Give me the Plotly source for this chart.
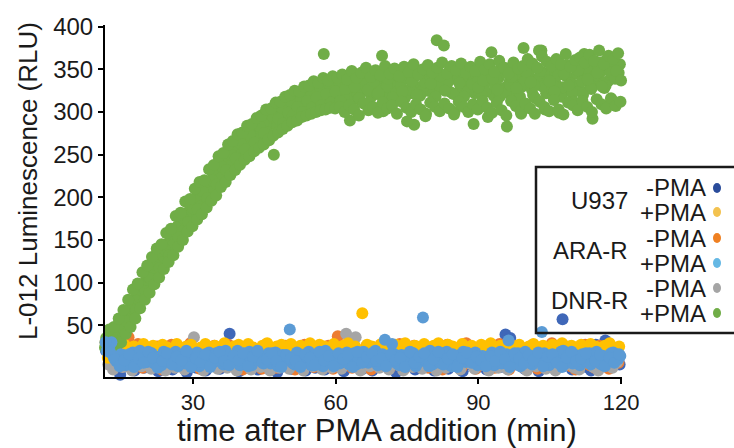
import numpy as np
import plotly.graph_objects as go

# Plate-reader schedule: one read per minute after PMA addition; wells are read
# a fraction of a minute apart within each cycle.
read_minutes = np.arange(12, 121)

# DNR-R +PMA, six wells (RLU)
dnr_pma_w1 = [28, 33, 36, 41, 52, 60, 75, 86, 92, 108,
              112, 126, 128, 143, 147, 163, 166, 181, 183, 196,
              195, 210, 211, 226, 228, 241, 243, 255, 254, 266,
              262, 275, 272, 284, 281, 292, 289, 301, 298, 309,
              303, 316, 309, 321, 313, 326, 317, 330, 318, 333,
              321, 336, 320, 338, 322, 340, 324, 331, 339, 319,
              342, 326, 334, 345, 321, 337, 329, 348, 325, 336,
              384, 328, 341, 323, 344, 330, 327, 349, 322, 338,
              333, 346, 319, 340, 328, 351, 324, 337, 330, 345,
              326, 339, 372, 322, 341, 333, 352, 327, 340, 331,
              346, 368, 355, 333, 341, 349, 336, 352, 344]
dnr_pma_w2 = [24, 30, 38, 36, 46, 66, 70, 80, 99, 100,
              118, 120, 136, 135, 154, 157, 172, 175, 188, 190,
              204, 203, 218, 219, 233, 236, 248, 249, 262, 259,
              270, 268, 280, 278, 290, 286, 297, 295, 305, 302,
              312, 306, 318, 312, 322, 314, 368, 316, 328, 320,
              331, 317, 335, 322, 329, 343, 318, 334, 326, 347,
              320, 333, 340, 316, 338, 285, 344, 327, 339, 322,
              345, 331, 326, 350, 320, 336, 343, 325, 347, 333,
              324, 341, 330, 318, 346, 335, 321, 343, 375, 351,
              320, 337, 330, 344, 325, 350, 318, 342, 334, 357,
              325, 344, 331, 350, 338, 328, 353, 340, 346]
dnr_pma_w3 = [35, 27, 31, 44, 57, 58, 80, 83, 97, 112,
              109, 130, 124, 146, 144, 166, 160, 178, 180, 200,
              190, 214, 206, 229, 222, 244, 237, 258, 249, 268,
              259, 278, 268, 287, 276, 295, 284, 304, 294, 311,
              300, 315, 305, 324, 310, 328, 314, 332, 315, 336,
              318, 329, 341, 315, 333, 326, 345, 321, 366, 330,
              348, 323, 331, 340, 326, 350, 319, 335, 343, 327,
              331, 378, 336, 321, 340, 347, 324, 333, 341, 319,
              345, 370, 338, 352, 323, 331, 344, 318, 336, 349,
              331, 372, 346, 337, 319, 343, 329, 355, 322, 345,
              336, 352, 327, 343, 358, 331, 347, 339, 356]
dnr_pma_w4 = [31, 36, 29, 48, 55, 70, 68, 92, 90, 105,
              121, 117, 139, 132, 157, 153, 175, 171, 187, 186,
              207, 199, 220, 215, 236, 232, 250, 246, 263, 256,
              273, 264, 283, 275, 267, 250, 292, 287, 299, 296,
              306, 300, 313, 305, 317, 308, 321, 311, 324, 313,
              327, 290, 330, 316, 348, 311, 336, 322, 301, 339,
              317, 343, 324, 289, 336, 320, 346, 298, 333, 318,
              342, 325, 349, 300, 334, 318, 345, 286, 329, 337,
              294, 339, 326, 353, 283, 341, 328, 298, 347, 335,
              316, 348, 303, 336, 324, 299, 345, 331, 312, 349,
              320, 338, 292, 346, 330, 362, 315, 348, 337]
dnr_pma_w5 = [40, 45, 48, 58, 68, 80, 92, 99, 112, 120,
              130, 140, 145, 158, 163, 178, 182, 195, 198, 210,
              218, 220, 233, 238, 248, 252, 262, 266, 274, 276,
              284, 286, 293, 296, 303, 304, 311, 312, 318, 320,
              325, 324, 330, 331, 336, 334, 340, 337, 342, 340,
              344, 338, 348, 340, 346, 352, 341, 349, 343, 354,
              345, 351, 342, 353, 347, 356, 344, 350, 355, 346,
              352, 358, 345, 354, 349, 357, 346, 353, 348, 359,
              350, 356, 347, 360, 352, 345, 358, 351, 354, 362,
              357, 352, 365, 359, 354, 362, 356, 368, 353, 361,
              364, 358, 367, 360, 372, 356, 366, 362, 369]
dnr_pma_w6 = [22, 26, 24, 30, 40, 48, 58, 70, 80, 88,
              98, 106, 116, 124, 132, 142, 150, 160, 166, 174,
              180, 188, 196, 202, 212, 218, 226, 232, 238, 244,
              248, 254, 258, 262, 268, 272, 276, 280, 284, 288,
              290, 294, 296, 298, 300, 302, 303, 305, 304, 306,
              300, 308, 303, 296, 310, 302, 306, 299, 311, 304,
              308, 298, 312, 305, 300, 309, 303, 295, 311, 306,
              301, 310, 304, 297, 312, 306, 300, 309, 303, 313,
              305, 299, 311, 302, 296, 313, 307, 301, 310, 304,
              298, 312, 306, 301, 314, 303, 297, 311, 308, 302,
              313, 306, 300, 315, 309, 304, 316, 307, 312]

# ARA-R +PMA, three wells
ara_pma_w1 = [42, 24, 12, 6, 15, 9, 18, 4, 13, 7,
              17, 10, 3, 14, 8, 19, 11, 5, 16, 9,
              2, 13, 18, 7, 12, 4, 15, 10, 20, 6,
              11, 3, 16, 9, 14, 5, 18, 8, 12, 45,
              4, 15, 10, 19, 6, 13, 2, 17, 9, 14,
              7, 18, 11, 4, 15, 8, 12, 20, 5, 33,
              10, 16, 3, 13, 9, 17, 6, 59, 11, 4,
              14, 8, 19, 2, 12, 16, 7, 10, 18, 5,
              13, 9, 3, 15, 11, 32, 6, 17, 8, 12,
              4, 16, 42, 10, 7, 14, 19, 5, 11, 15,
              3, 9, 17, 12, 6, 14, 8, 18, 10]
ara_pma_w2 = [20, 30, 8, 16, 3, 12, 7, 20, 10, 15,
              5, 13, 19, 7, 11, 2, 16, 12, 6, 18,
              10, 14, 4, 17, 9, 20, 6, 12, 3, 15,
              19, 8, 11, 5, 17, 13, 2, 15, 10, 6,
              18, 9, 13, 3, 16, 11, 20, 7, 14, 5,
              12, 4, 17, 10, 19, 6, 13, 3, 16, 9,
              28, 5, 15, 11, 18, 2, 14, 9, 20, 13,
              6, 17, 4, 12, 8, 19, 10, 15, 3, 14,
              7, 18, 12, 5, 16, 9, 13, 2, 19, 6,
              14, 10, 17, 3, 12, 8, 20, 15, 5, 11,
              16, 7, 13, 19, 4, 10, 17, 9, 14]
ara_pma_w3 = [30, 18, 10, 2, 9, 16, 1, 11, 6, 19,
              12, 0, 8, 17, 4, 13, 9, 20, 1, 11,
              7, 16, 1, 12, 19, 8, 3, 14, 9, 17,
              2, 13, 20, 6, 10, 17, 8, 1, 15, 11,
              8, 1, 16, 12, 3, 19, 9, 14, 2, 17,
              10, 15, 1, 19, 6, 13, 17, 8, 11, 2,
              16, 9, 12, 1, 19, 6, 13, 17, 2, 10,
              19, 4, 11, 16, 1, 12, 18, 6, 13, 9,
              2, 14, 8, 19, 10, 1, 17, 11, 5, 15,
              9, 18, 2, 13, 16, 6, 1, 12, 19, 8,
              11, 17, 4, 8, 15, 2, 12, 6, 16]

# U937 +PMA, two wells
u937_pma_w1 = [30, 24, 26, 20, 27, 22, 25, 18, 28, 23,
               26, 21, 27, 24, 19, 28, 22, 25, 27, 20,
               24, 28, 21, 26, 23, 29, 20, 25, 27, 22,
               28, 24, 19, 26, 29, 21, 25, 27, 23, 28,
               20, 26, 24, 29, 22, 27, 25, 21, 28, 24,
               26, 29, 23, 20, 64, 27, 25, 22, 28, 24,
               21, 27, 25, 29, 23, 26, 20, 28, 24, 26,
               29, 22, 27, 25, 21, 28, 24, 26, 20, 27,
               25, 29, 23, 26, 22, 28, 24, 27, 21, 25,
               28, 23, 26, 20, 27, 25, 29, 22, 26, 24,
               27, 21, 28, 25, 23, 26, 29, 22, 25]
u937_pma_w2 = [18, 12, 22, 15, 20, 11, 24, 17, 14, 21,
               13, 19, 16, 23, 11, 18, 21, 14, 25, 16,
               20, 12, 24, 17, 15, 22, 13, 19, 16, 23,
               14, 21, 18, 11, 25, 16, 20, 13, 22, 17,
               24, 15, 19, 12, 21, 18, 14, 23, 16, 20,
               13, 22, 17, 25, 15, 19, 11, 24, 18, 14,
               21, 16, 23, 12, 20, 17, 25, 14, 19, 22,
               15, 18, 12, 24, 17, 21, 13, 20, 16, 23,
               18, 14, 22, 17, 25, 12, 19, 15, 23, 16,
               20, 13, 24, 18, 15, 21, 12, 17, 25, 19,
               14, 22, 16, 20, 13, 24, 18, 15, 21]

# -PMA controls, one well each
ara_ctrl = [38, 26, 4, 12, 2, 36, 8, 28, 0, 15,
            6, 25, -2, 10, 27, 3, 14, 1, 29, 7,
            -1, 18, 5, 26, 0, 11, 27, 2, 9, -2,
            24, 5, 13, -1, 28, 7, 0, 16, 26, 3,
            -2, 12, 27, 4, 1, 20, 8, 26, -1, 37,
            5, 28, 0, 13, 3, 25, -2, 9, 27, 6,
            1, 15, 28, -1, 7, 26, 2, 11, 0, 24,
            8, -2, 27, 4, 14, 0, 29, 6, -1, 25,
            3, 12, 0, 28, 7, -2, 26, 5, 10, 1,
            27, -1, 13, 4, 29, 0, 8, 25, 2, -2,
            15, 27, 3, 0, 26, 9, -1, 24, 6]
dnr_ctrl = [14, 4, -2, 9, 1, 12, -3, 6, 2, 10,
            -1, 8, 3, -3, 11, 0, 5, -2, 7, 36,
            2, -3, 9, 4, -1, 13, 0, 6, -3, 10,
            3, -2, 7, 1, 12, -3, 5, 0, 8, -1,
            4, 11, -3, 6, 2, 9, -2, 5, 0, 13,
            -1, 40, 7, 36, -3, 8, 2, 11, 0, 5,
            -2, 9, 3, -3, 12, 1, 6, -1, 10, 4,
            -3, 7, 0, 11, 2, -2, 8, 5, -1, 12,
            3, -3, 6, 0, 9, -2, 4, 13, 1, -3,
            7, 2, 10, -1, 5, -3, 24, 3, 8, 0,
            -2, 6, 11, 1, -3, 9, 4, 0, 7]
u937_ctrl = [20, 8, -12, -8, 2, 11, -3, 6, 0, 14,
             1, -4, 9, 3, -2, 12, 5, -5, 7, 0,
             10, -3, 4, 13, -1, 6, 40, 2, -4, 9,
             0, 11, -2, 5, 14, 1, -5, 8, 3, -1,
             12, 4, -3, 7, 0, 10, -2, 6, 13, 1,
             -4, 8, 3, 11, -1, 5, -3, 9, 2, 14,
             0, -5, 7, 4, 12, -2, 6, 1, 10, -3,
             5, 13, -1, 8, 2, -4, 11, 3, 0, 9,
             -2, 6, 14, 1, 39, 35, 4, 12, -1, 7,
             2, -4, 10, 5, 13, 0, 57, 3, -2, 8,
             11, 1, -3, 27, 6, 32, 2, 9, 4]

# (cell line, treatment, colour, wells with their read offsets in min)
series = [
    ("U937", "-PMA", "#3f67b8", [(u937_ctrl, -0.3)]),
    ("ARA-R", "-PMA", "#ed7d31", [(ara_ctrl, -0.55)]),
    ("DNR-R", "-PMA", "#a5a5a5", [(dnr_ctrl, -0.8)]),
    ("U937", "+PMA", "#ffc000", [(u937_pma_w1, -0.4), (u937_pma_w2, -0.9)]),
    ("DNR-R", "+PMA", "#70ad47", [(dnr_pma_w1, -0.75), (dnr_pma_w2, -0.5),
                                  (dnr_pma_w3, -0.25), (dnr_pma_w4, 0.0),
                                  (dnr_pma_w5, -0.62), (dnr_pma_w6, -0.12)]),
    ("ARA-R", "+PMA", "#5b9bd5", [(ara_pma_w1, -0.65), (ara_pma_w2, -0.15),
                                  (ara_pma_w3, -0.4)]),
]

legend_rows = [
    ("U937", "-PMA", "#2a4c9b"), ("U937", "+PMA", "#f3c24f"),
    ("ARA-R", "-PMA", "#ef8022"), ("ARA-R", "+PMA", "#65b8e4"),
    ("DNR-R", "-PMA", "#a5a5a5"), ("DNR-R", "+PMA", "#70ad47"),
]

FONT = "Liberation Sans, Arial, sans-serif"
W, H = 734, 448
PL, PR, PT, PB = 105, 622, 25, 377   # plot area in pixels


def fx(px):
    return (px - PL) / (PR - PL)


def fy(py):
    return (PB - py) / (PB - PT)


fig = go.Figure()
for cell, treat, colour, wells in series:
    xs, ys = [], []
    for vals, off in wells:
        xs.extend((read_minutes + off).tolist())
        ys.extend(vals)
    fig.add_trace(go.Scatter(
        x=xs, y=ys, mode="markers", name=f"{cell} {treat}",
        marker=dict(color=colour, size=12, line=dict(width=0)),
        cliponaxis=False, showlegend=False, hoverinfo="skip"))

axis_common = dict(showline=True, linecolor="black", linewidth=2,
                   ticks="outside", ticklen=5, tickwidth=1.5, tickcolor="black",
                   showgrid=False, zeroline=False)

fig.update_layout(
    width=W, height=H,
    margin=dict(l=PL, r=W - PR, t=PT, b=H - PB),
    paper_bgcolor="white", plot_bgcolor="white",
    xaxis=dict(range=[11.5, 120.2], tickvals=[30, 60, 90, 120],
               tickfont=dict(family=FONT, size=22, color="#1a1a1a"), **axis_common),
    yaxis=dict(range=[-10.7, 402], tickvals=[50, 100, 150, 200, 250, 300, 350, 400],
               tickfont=dict(family=FONT, size=24, color="#1a1a1a"), **axis_common),
    showlegend=False,
)

annotations = [
    dict(text="time after PMA addition (min)", x=fx(377), y=fy(430),
         font=dict(size=31)),
    dict(text="L-012 Luminescence (RLU)", x=fx(28), y=fy(181), textangle=-90,
         font=dict(size=26)),
]

# legend box
shapes = [dict(type="rect", xref="paper", yref="paper",
               x0=fx(536), x1=fx(745), y0=fy(333), y1=fy(167),
               line=dict(color="#1a1a1a", width=2.5), fillcolor="rgba(0,0,0,0)")]
row_y = [188, 212, 238, 263, 288, 313]
for i, (cell, treat, colour) in enumerate(legend_rows):
    yc = row_y[i]
    annotations.append(dict(text=treat, x=fx(708), y=fy(yc), xanchor="right",
                            font=dict(size=24)))
    shapes.append(dict(type="circle", xref="paper", yref="paper",
                       x0=fx(713), x1=fx(721), y0=fy(yc + 5), y1=fy(yc - 5),
                       line=dict(width=0), fillcolor=colour))
    if i % 2 == 0:
        annotations.append(dict(text=cell, x=fx(630), y=fy((yc + row_y[i + 1]) / 2),
                                xanchor="right", font=dict(size=24)))

for a in annotations:
    a.setdefault("xref", "paper")
    a.setdefault("yref", "paper")
    a.setdefault("showarrow", False)
    a.setdefault("xanchor", "center")
    a.setdefault("yanchor", "middle")
    a["font"] = dict(family=FONT, color="#1a1a1a", **a["font"])

fig.update_layout(annotations=annotations, shapes=shapes)
fig.write_html("out.html")
